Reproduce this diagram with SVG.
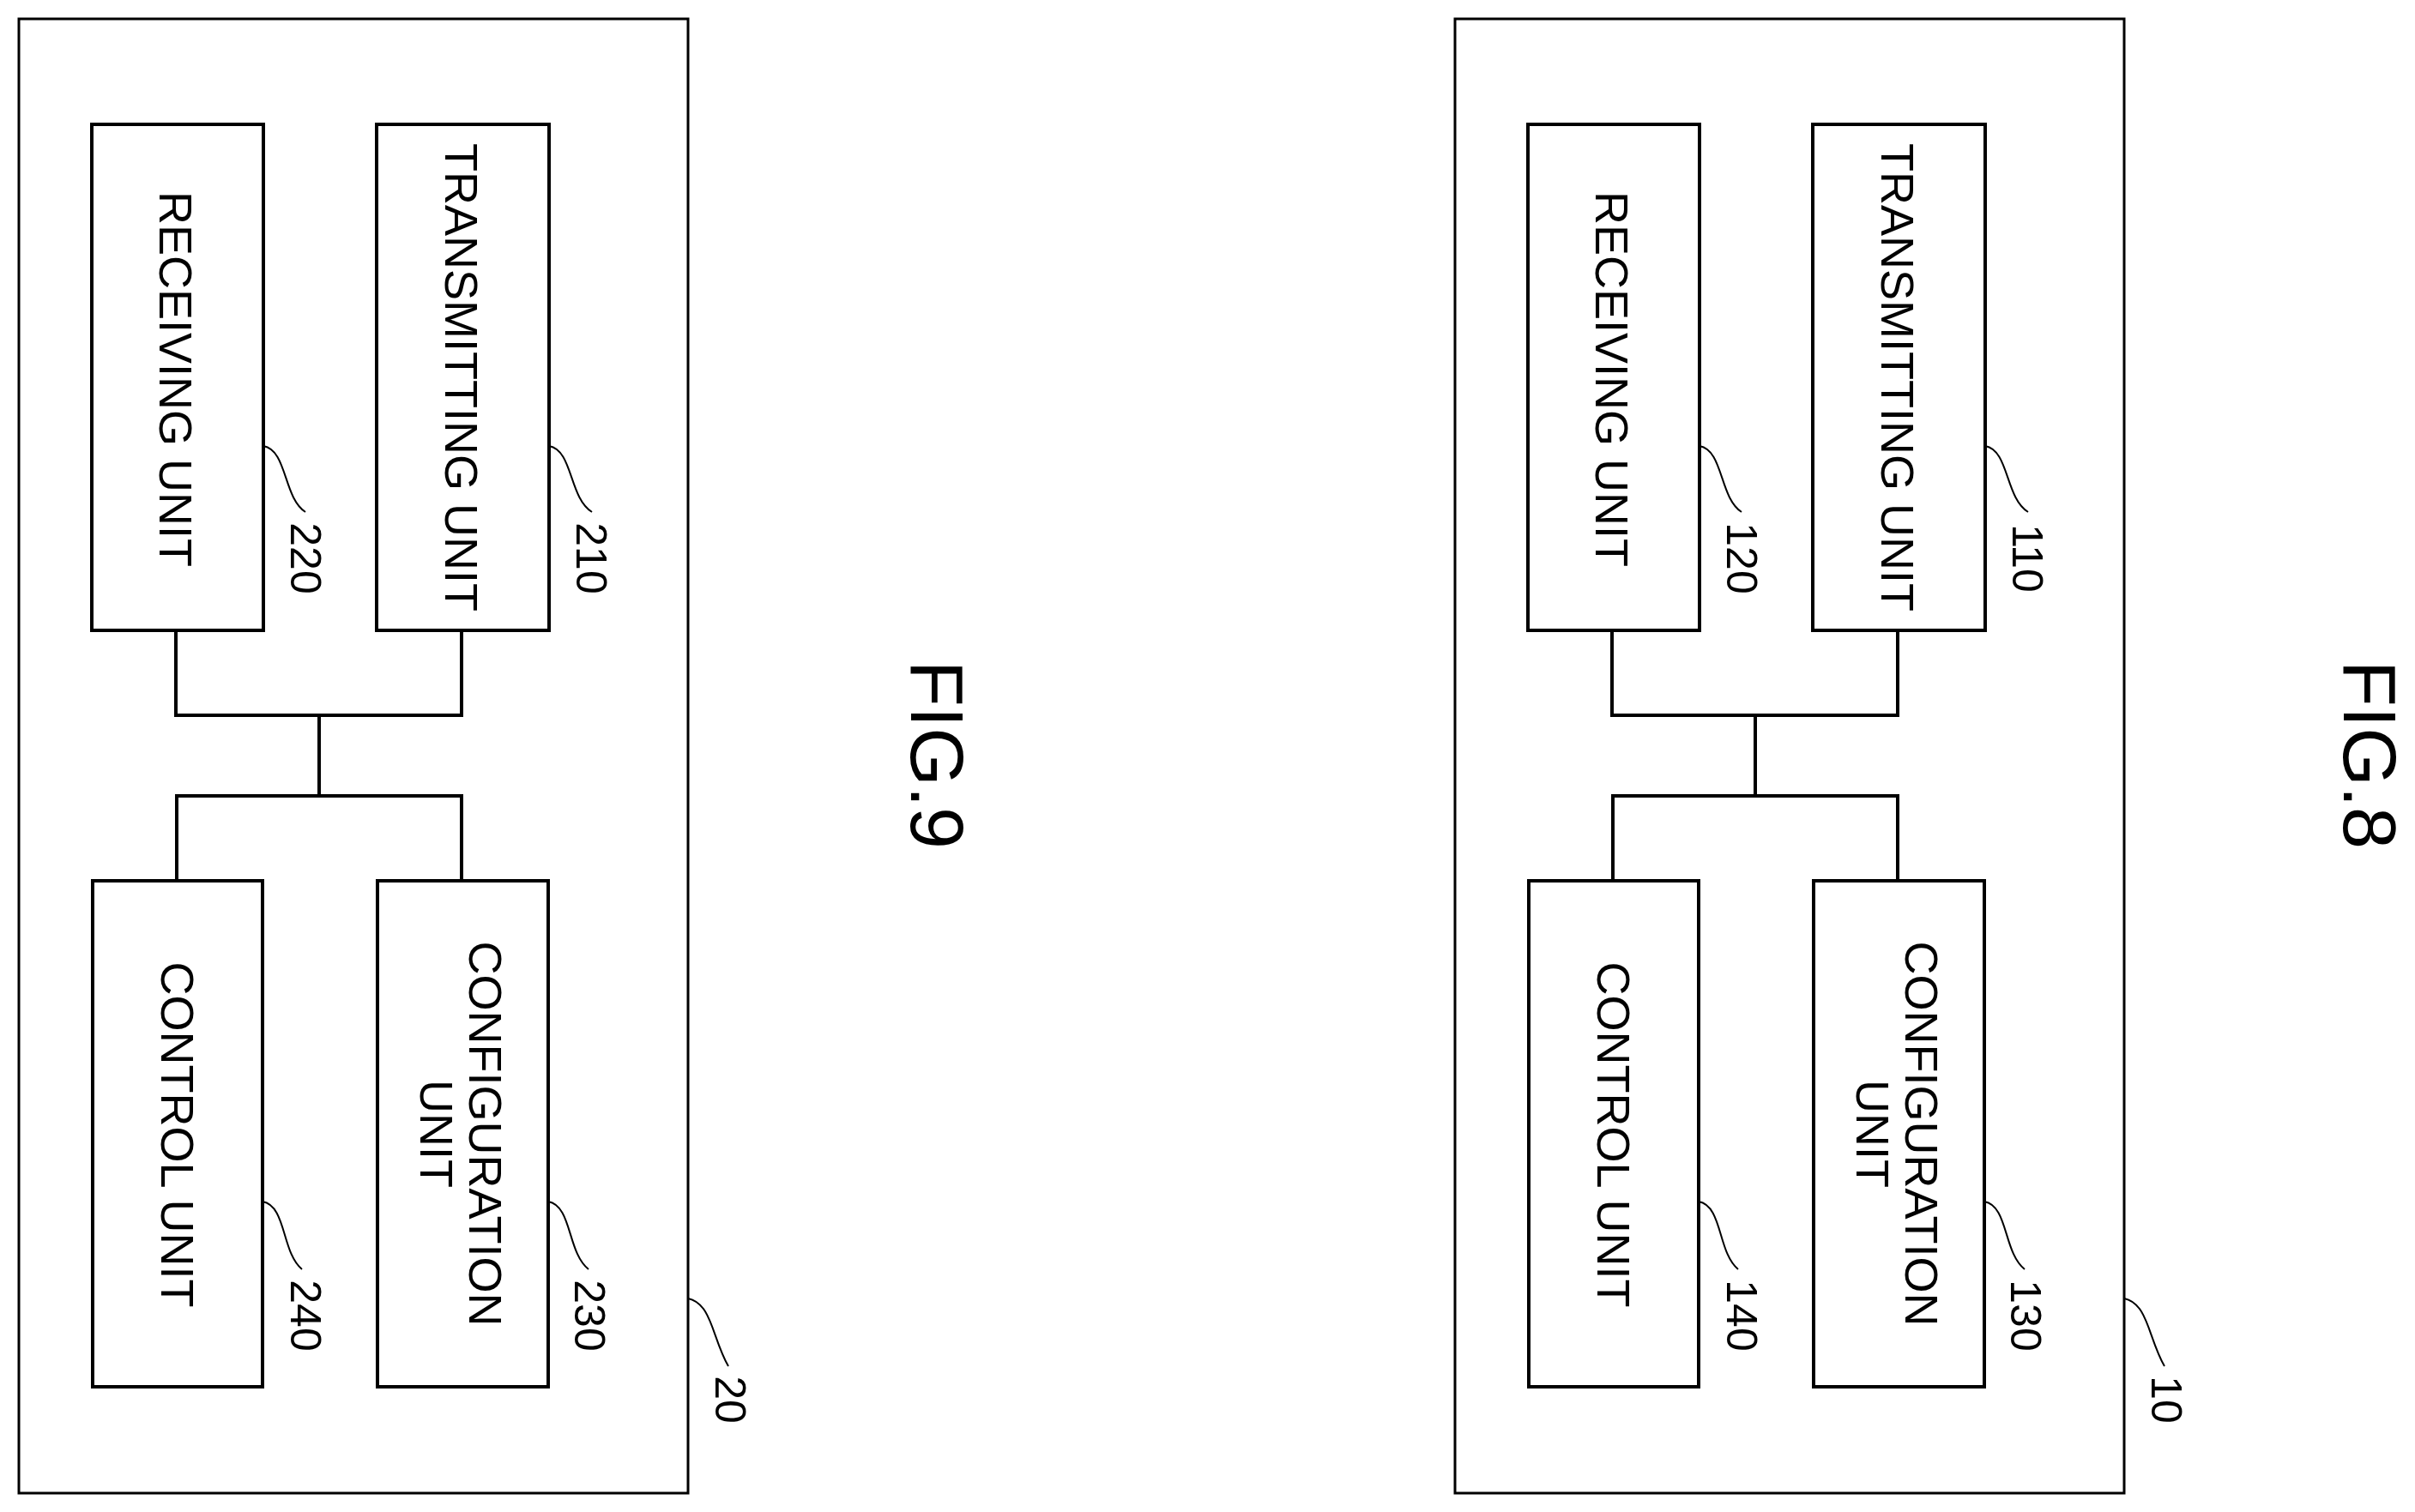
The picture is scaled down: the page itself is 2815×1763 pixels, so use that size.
<svg xmlns="http://www.w3.org/2000/svg" width="2815" height="1763" viewBox="0 0 2815 1763">
<style>
.b{fill:#fff;stroke:#000;stroke-width:4}
.o{fill:none;stroke:#000;stroke-width:3}
.c{fill:none;stroke:#000;stroke-width:4}
.l{fill:none;stroke:#000;stroke-width:2}
text{font-family:"Liberation Sans",Arial,sans-serif;font-size:54px;fill:#000;text-anchor:middle;dominant-baseline:central}
.n{font-size:50px}
.f{font-size:88px}
</style>
<rect width="2815" height="1763" fill="#fff"/>
<defs>
<rect id="outer" class="o" x="22" y="22" width="780" height="1719"/>
</defs>
<g id="figure9">
<g id="n20"><use href="#outer"/><path class="l" d="M802,1514 C830,1520 830,1560 849,1593"/><text class="n" transform="translate(851,1632) rotate(90)">20</text></g>
<g id="n220"><rect class="b" x="107" y="145" width="200" height="590"/><text transform="translate(205,442) rotate(90)">RECEIVING UNIT</text><path class="l" d="M307,520 C335,525 330,580 356,597"/><text class="n" transform="translate(356,651) rotate(90)">220</text></g>
<g id="n210"><rect class="b" x="439" y="145" width="201" height="590"/><text transform="translate(538,440) rotate(90)">TRANSMITTING UNIT</text><path class="l" d="M640,520 C668,525 663,580 690,597"/><text class="n" transform="translate(689,651) rotate(90)">210</text></g>
<g id="n240"><rect class="b" x="108" y="1027" width="198" height="590"/><text transform="translate(207,1323) rotate(90)">CONTROL UNIT</text><path class="l" d="M306,1401 C334,1406 328,1460 352,1480"/><text class="n" transform="translate(356,1534) rotate(90)">240</text></g>
<g id="n230"><rect class="b" x="440" y="1027" width="199" height="590"/><text transform="translate(566,1322) rotate(90)">CONFIGURATION</text><text transform="translate(509,1322) rotate(90)">UNIT</text><path class="l" d="M639,1401 C667,1406 661,1460 686,1480"/><text class="n" transform="translate(687,1534) rotate(90)">230</text></g>
<g id="connectors9"><path class="c" d="M205,735 V834 H538 V735 M372,834 V928 M206,1027 V928 H538 V1027"/></g>
<text class="f" transform="translate(1092,880) rotate(90)">FIG.9</text>
</g>
<g id="figure8" transform="translate(1674,0)">
<g id="n10"><use href="#outer"/><path class="l" d="M802,1514 C830,1520 830,1560 849,1593"/><text class="n" transform="translate(851,1632) rotate(90)">10</text></g>
<g id="n120"><rect class="b" x="107" y="145" width="200" height="590"/><text transform="translate(205,442) rotate(90)">RECEIVING UNIT</text><path class="l" d="M307,520 C335,525 330,580 356,597"/><text class="n" transform="translate(356,651) rotate(90)">120</text></g>
<g id="n110"><rect class="b" x="439" y="145" width="201" height="590"/><text transform="translate(538,440) rotate(90)">TRANSMITTING UNIT</text><path class="l" d="M640,520 C668,525 663,580 690,597"/><text class="n" transform="translate(689,651) rotate(90)">110</text></g>
<g id="n140"><rect class="b" x="108" y="1027" width="198" height="590"/><text transform="translate(207,1323) rotate(90)">CONTROL UNIT</text><path class="l" d="M306,1401 C334,1406 328,1460 352,1480"/><text class="n" transform="translate(356,1534) rotate(90)">140</text></g>
<g id="n130"><rect class="b" x="440" y="1027" width="199" height="590"/><text transform="translate(566,1322) rotate(90)">CONFIGURATION</text><text transform="translate(509,1322) rotate(90)">UNIT</text><path class="l" d="M639,1401 C667,1406 661,1460 686,1480"/><text class="n" transform="translate(687,1534) rotate(90)">130</text></g>
<g id="connectors8"><path class="c" d="M205,735 V834 H538 V735 M372,834 V928 M206,1027 V928 H538 V1027"/></g>
<text class="f" transform="translate(1088,880) rotate(90)">FIG.8</text>
</g>
</svg>
